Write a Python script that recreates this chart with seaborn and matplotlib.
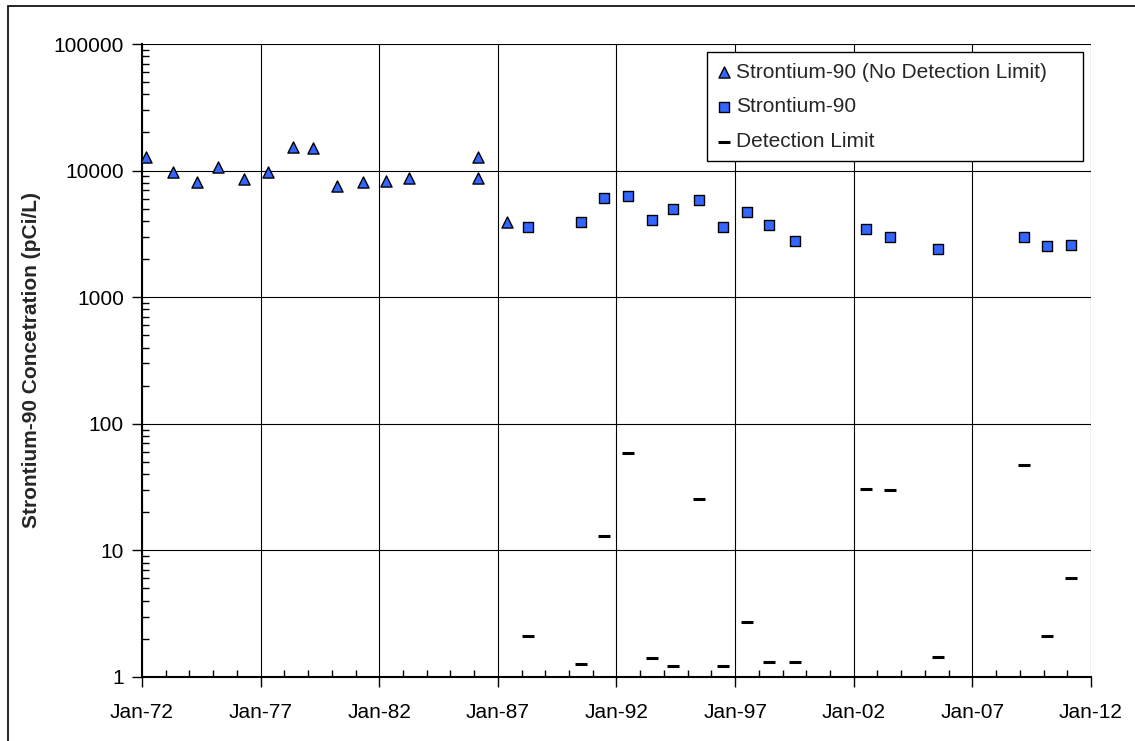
import matplotlib
matplotlib.use("Agg")
import matplotlib.pyplot as plt
import matplotlib.dates as mdates
import matplotlib.ticker as mticker
from matplotlib.patches import Rectangle
import pandas as pd
import seaborn as sns

# Strontium-90, no detection limit reported
nodl_dates = [
    "1972-03-01", "1973-04-15", "1974-04-20", "1975-03-18", "1976-04-20",
    "1977-04-22", "1978-05-15", "1979-03-25", "1980-03-25", "1981-04-22",
    "1982-04-22", "1983-04-01", "1986-03-03", "1986-03-03", "1987-05-22",
]
nodl_values = [
    12800, 9700, 8100, 10700, 8600,
    9700, 15400, 15000, 7600, 8100,
    8300, 8800, 12800, 8800, 3900,
]

# Strontium-90 with detection limit (same sampling dates)
sr_dates = [
    "1988-04-15", "1990-07-08", "1991-06-18", "1992-06-21", "1993-06-25",
    "1994-05-26", "1995-06-28", "1996-06-28", "1997-07-01", "1998-06-10",
    "1999-07-05", "2002-07-15", "2003-07-18", "2005-07-23", "2009-03-01",
    "2010-03-01", "2011-03-03",
]
sr_values = [
    3600, 3950, 6100, 6250, 4050,
    5000, 5900, 3600, 4700, 3700,
    2800, 3450, 3000, 2400, 3000,
    2550, 2600,
]
dl_values = [
    2.1, 1.27, 13, 59, 1.4,
    1.23, 25.5, 1.23, 2.7, 1.32,
    1.32, 30.5, 29.8, 1.45, 47,
    2.1, 6.0,
]

nodl = pd.DataFrame({"date": pd.to_datetime(nodl_dates), "value": nodl_values})
sr = pd.DataFrame({"date": pd.to_datetime(sr_dates), "value": sr_values})
dl = pd.DataFrame({"date": pd.to_datetime(sr_dates), "value": dl_values})

sns.set_style("ticks")
plt.rcParams["font.family"] = ["Liberation Sans", "DejaVu Sans"]
plt.rcParams["font.size"] = 15

blue = "#3366FF"

fig = plt.figure(figsize=(11.35, 7.41), dpi=100)
ax = fig.add_axes([0.1251, 0.0864, 0.8361, 0.8542])

sns.scatterplot(data=nodl, x="date", y="value", ax=ax, marker="^", s=64,
                color=blue, edgecolor="black", linewidth=1.0,
                label="Strontium-90 (No Detection Limit)", zorder=3)
sns.scatterplot(data=sr, x="date", y="value", ax=ax, marker="s", s=42,
                color=blue, edgecolor="black", linewidth=1.0,
                label="Strontium-90", zorder=3)
sns.scatterplot(data=dl, x="date", y="value", ax=ax, marker="_", s=64,
                color="black", edgecolor="black", linewidth=2.2,
                label="Detection Limit", zorder=3)

ax.set_yscale("log")
ax.set_ylim(1, 100000)
start, end = pd.Timestamp("1972-01-01"), pd.Timestamp("2012-01-01")
ax.set_xlim(start, end)

major_x = pd.date_range(start, end, freq="5YS")
minor_x = pd.date_range(start, end, freq="YS")
ax.xaxis.set_major_locator(mticker.FixedLocator(mdates.date2num(major_x)))
ax.xaxis.set_major_formatter(mdates.DateFormatter("%b-%y"))
ax.xaxis.set_minor_locator(mticker.FixedLocator(mdates.date2num(minor_x)))

ax.yaxis.set_major_locator(mticker.LogLocator(base=10, numticks=10))
ax.yaxis.set_major_formatter(mticker.FuncFormatter(lambda v, p: f"{v:.0f}"))
ax.yaxis.set_minor_locator(mticker.LogLocator(base=10, subs=range(2, 10), numticks=20))
ax.yaxis.set_minor_formatter(mticker.NullFormatter())

ax.grid(True, which="major", color="black", linewidth=0.8)
ax.tick_params(which="major", direction="out", length=7, width=1, colors="black",
               labelsize=15)
ax.tick_params(axis="x", which="major", pad=12)
ax.tick_params(axis="y", which="major", pad=6)
ax.tick_params(axis="both", which="minor", direction="in", length=5, width=1,
               colors="black")

for side in ["top", "right"]:
    ax.spines[side].set_visible(False)
for side in ["left", "bottom"]:
    ax.spines[side].set_color("black")
    ax.spines[side].set_linewidth(1.5)

ax.set_xlabel("")
ax.set_ylabel("Strontium-90 Concetration (pCi/L)", fontsize=15, fontweight="bold",
              labelpad=9)

leg = ax.legend(loc="upper left", bbox_to_anchor=(0.5954, 0.8, 0.3962, 0.1869),
                mode="expand", borderaxespad=0, frameon=True, fancybox=False,
                framealpha=1, edgecolor="black", fontsize=15, handlelength=0.6,
                handletextpad=0.3, borderpad=0.5, labelspacing=0.75)
leg.get_frame().set_linewidth(1.0)
leg.set_zorder(5)

fig.patches.append(Rectangle((8 / 1135, -0.5), 2, 1.4919, transform=fig.transFigure,
                             fill=False, edgecolor="black", linewidth=1.2))

fig.savefig("out.png", dpi=100)
